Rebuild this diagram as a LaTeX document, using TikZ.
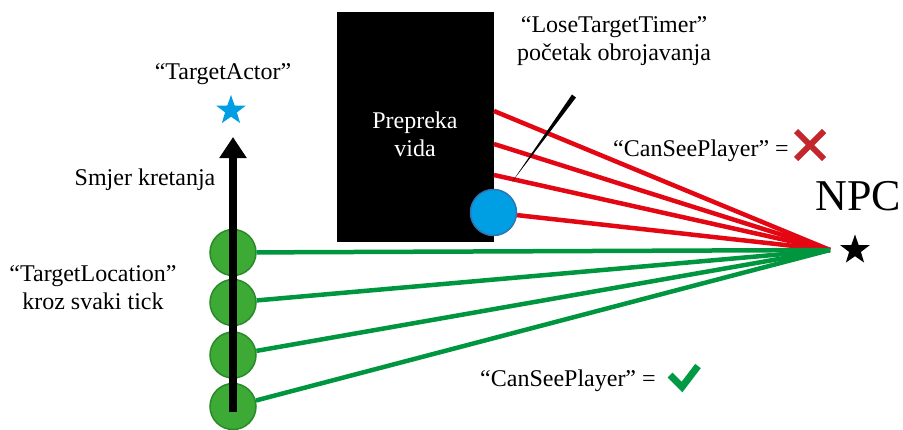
\documentclass[tikz,border=0pt]{standalone}
\usepackage{fontspec}
\setmainfont{Liberation Serif}
\usetikzlibrary{shapes.geometric,arrows.meta}
\definecolor{gfill}{HTML}{3DAA35}
\definecolor{gedge}{HTML}{2A8A2A}
\definecolor{gline}{HTML}{00963F}
\definecolor{rline}{HTML}{E30613}
\definecolor{bfill}{HTML}{009FE3}
\definecolor{bedge}{HTML}{2E75B6}
\definecolor{xred}{HTML}{C1272D}
\definecolor{chk}{HTML}{009A44}
\tikzset{
  lbl/.style={font=\fontsize{24}{28}\selectfont, inner sep=0pt, anchor=base, align=center},
  gdot/.style={circle, fill=gfill, draw=gedge, line width=1.5pt, minimum size=46pt, inner sep=0pt},
  bdot/.style={circle, fill=bfill, draw=bedge, line width=1.5pt, minimum size=46pt, inner sep=0pt},
  ray/.style={line width=4.5pt},
  starnode/.style={star, star points=5, star point ratio=2.5, minimum size=31pt, inner sep=0pt},
}
\begin{document}
\begin{tikzpicture}[x=1pt,y=-1pt]
\useasboundingbox (0,0) rectangle (903,429);
% NPC point
\coordinate (npc) at (830,250);
% obstacle
\node[fill=black, minimum width=157pt, minimum height=230pt, inner sep=0pt, anchor=north west] (wall) at (337,12) {};
\node[lbl, text=white] (walltxt) at (415,156) {Prepreka\\vida};
% red rays
\coordinate (r1) at (494,111);
\coordinate (r2) at (494,144);
\coordinate (r3) at (494,175);
\draw[ray, rline] (r1) -- (npc);
\draw[ray, rline] (r2) -- (npc);
\draw[ray, rline] (r3) -- (npc);
\node[bdot] (blue) at (493.5,212.5) {};
\draw[ray, rline] (blue) -- (npc);
% green dots and rays
\node[gdot] (g1) at (233,252.5) {};
\node[gdot] (g2) at (233,302.5) {};
\node[gdot] (g3) at (233,355) {};
\node[gdot] (g4) at (233,406.5) {};
\draw[ray, gline] (g1) -- (npc);
\draw[ray, gline] (g2) -- (npc);
\draw[ray, gline] (g3) -- (npc);
\draw[ray, gline] (g4) -- (npc);
% movement arrow
\coordinate (a0) at (233,412);
\coordinate (a1) at (233,137);
\draw[line width=8pt, -{Triangle[width=26pt,length=21pt]}] (a0) -- (a1);
% target actor star
\node[starnode, fill=bfill] (tstar) at (231,110.5) {};
\node[lbl] (tatxt) at (223,79) {“TargetActor”};
\node[lbl] (smjer) at (145,185) {Smjer kretanja};
\node[lbl] (tloc) at (93,309) {“TargetLocation”\\kroz svaki tick};
% lose target timer callout
\node[lbl] (ltt) at (614,60.5) {“LoseTargetTimer”\\početak obrojavanja};
\coordinate (c0) at (574,96);
\coordinate (c1) at (512,182);
\fill[black] ([shift={(-2,-1.5)}]c0) -- ([shift={(2,1.5)}]c0) -- (c1) -- cycle;
% can see player (red)
\node[lbl, anchor=base west] (csp1) at (613,156) {“CanSeePlayer” =};
\coordinate (x0) at (810,145);
\draw[xred, line width=6pt] ([shift={(-14,-14)}]x0) -- ([shift={(14,14)}]x0);
\draw[xred, line width=6pt] ([shift={(-14,14)}]x0) -- ([shift={(14,-14)}]x0);
% NPC
\node[lbl, font=\fontsize{44}{50}\selectfont] (npctxt) at (858.5,210.5) {NPC};
\node[starnode, fill=black] (nstar) at (855,250) {};
% can see player (green)
\node[lbl, anchor=base west] (csp2) at (480,386) {“CanSeePlayer” =};
\coordinate (k0) at (670,375);
\coordinate (k1) at (682,387);
\coordinate (k2) at (698,366);
\draw[chk, line width=7pt, line join=miter] (k0) -- (k1) -- (k2);
\end{tikzpicture}
\end{document}
